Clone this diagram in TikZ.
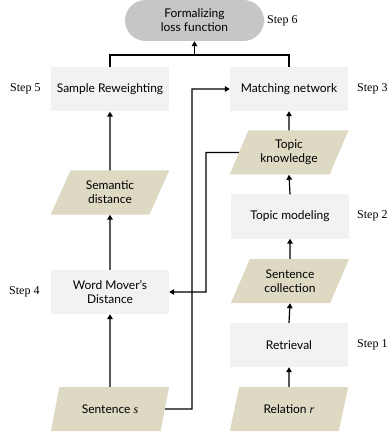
\documentclass[tikz,border=0pt]{standalone}
\usepackage{fontspec}
\setmainfont{Lato}
\newfontfamily\serifstep{Liberation Serif}
\usetikzlibrary{shapes.geometric,shapes.misc,arrows.meta}
\definecolor{boxgray}{HTML}{F2F2F2}
\definecolor{lossgray}{HTML}{C6C6C6}
\definecolor{khaki}{HTML}{DDD9C3}
\begin{document}
\begin{tikzpicture}[x=1pt,y=-1pt,
  txt/.style={font=\fontsize{12}{14}\selectfont, align=center, inner sep=0pt},
  box/.style={txt, fill=boxgray, minimum width=118pt, minimum height=44pt},
  para/.style={txt, trapezium, trapezium left angle=62, trapezium right angle=118,
    trapezium stretches=true, fill=khaki, minimum width=119pt, minimum height=44pt},
  steplbl/.style={font=\serifstep\fontsize{12}{14}\selectfont, anchor=west, inner sep=0pt},
  conn/.style={line width=1.2pt},
  arr/.style={conn, -{Triangle[width=5.5pt,length=5pt]}}
]
\useasboundingbox (0,0) rectangle (388,435);

\node[txt, rounded rectangle, fill=lossgray, minimum width=139pt, minimum height=41pt] (loss) at (194.5,20.5) {Formalizing\\loss function};
\node[box] (sr) at (110,89.5) {Sample Reweighting};
\node[box] (mn) at (289,89) {Matching network};
\node[para] (tk) at (289,152.5) {Topic\\knowledge};
\node[para] (sd) at (110,192.5) {Semantic\\distance};
\node[box] (tm) at (290,216.5) {Topic modeling};
\node[para] (sc) at (290,281) {Sentence\\collection};
\node[box] (wmd) at (110,292) {Word Mover's\\Distance};
\node[box] (ret) at (289,345) {Retrieval};
\node[para] (ss) at (110,409) {Sentence {\serifstep\itshape s}};
\node[para] (rel) at (289,409) {Relation {\serifstep\itshape r}};

\node[steplbl] (st6) at (267,21) {Step 6};
\node[steplbl] (st5) at (10,89) {Step 5};
\node[steplbl] (st3) at (357,89) {Step 3};
\node[steplbl] (st2) at (357,216) {Step 2};
\node[steplbl] (st4) at (9,292) {Step 4};
\node[steplbl] (st1) at (357,345) {Step 1};

\coordinate (j) at (194.5,55);
\coordinate (c1) at (192,409);
\coordinate (c2) at (206,152.5);

\draw[conn] (sr.north) |- (j) -| (mn.north);
\draw[arr] (j) -- (loss.south);
\draw[arr] (sd.north) -- (sr.south);
\draw[arr] (wmd.north) -- (sd.south);
\draw[arr] (ss.north) -- (wmd.south);
\draw[arr] (ss.east) -- (c1) |- (mn.west);
\draw[arr] (tk.west) -- (c2) |- (wmd.east);
\draw[arr] (tk.north) -- (mn.south);
\draw[arr] (tm.north) -- (tk.south);
\draw[arr] (sc.north) -- (tm.south);
\draw[arr] (ret.north) -- (sc.south);
\draw[arr] (rel.north) -- (ret.south);
\end{tikzpicture}
\end{document}
